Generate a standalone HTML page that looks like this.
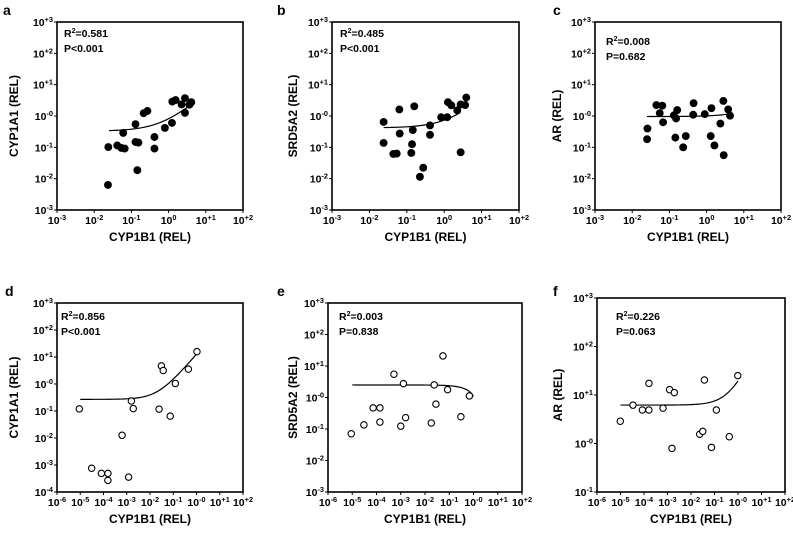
<!DOCTYPE html>
<html><head><meta charset="utf-8"><style>
html,body{margin:0;padding:0;background:#fff;}
svg{display:block;font-family:"Liberation Sans",Arial,sans-serif;font-weight:bold;}
</style></head><body>
<svg id="fig" width="793" height="536" viewBox="0 0 793 536"></svg>
<script>
const aX=[-1.62,-1.63,-1.38,-1.27,-1.18,-1.22,-0.89,-0.89,-0.81,-0.84,-0.67,-0.57,-0.38,-0.38,-0.10,0.09,0.10,0.19,0.35,0.44,0.44,0.56,0.61];
const aY=[-0.99,-2.20,-0.94,-1.02,-1.04,-0.54,-0.26,-0.83,-0.85,-1.73,0.09,0.16,-0.67,-1.04,-0.38,-0.22,0.46,0.51,0.37,0.57,0.10,0.36,0.44];
const bX=[-1.62,-1.62,-1.36,-1.27,-1.20,-1.19,-0.88,-0.86,-0.84,-0.80,-0.56,-0.65,-0.38,-0.38,-0.08,0.08,0.10,0.19,0.35,0.44,0.44,0.56,0.59];
const bY=[-0.19,-0.86,-1.21,-1.20,0.21,-0.56,-1.18,-0.90,-0.45,0.31,-1.65,-1.94,-0.30,-0.60,-0.04,-0.04,0.44,0.34,0.18,0.37,-1.16,0.35,0.59];
const cX=[-1.59,-1.60,-1.35,-1.26,-1.19,-1.17,-0.88,-0.82,-0.79,-0.84,-0.56,-0.63,-0.35,-0.36,-0.05,0.13,0.11,0.21,0.37,0.45,0.46,0.58,0.63];
const cY=[-0.40,-0.74,0.35,0.09,0.33,-0.20,0.02,-0.08,0.19,-0.69,-0.64,-1.00,0.41,0.04,0.06,0.25,-0.64,-0.94,-0.24,0.48,-1.25,0.21,0.01];
const dX=[-5.04,-4.51,-4.09,-3.81,-3.81,-3.20,-2.92,-2.80,-2.72,-1.61,-1.51,-1.43,-1.13,-0.91,-0.35,0.02];
const dY=[-0.92,-3.12,-3.31,-3.31,-3.57,-1.90,-3.45,-0.63,-0.91,-0.93,0.67,0.50,-1.19,0.02,0.55,1.20];
const eX=[-5.04,-4.52,-4.14,-3.86,-3.86,-3.28,-3.00,-2.89,-2.80,-1.74,-1.62,-1.55,-1.26,-1.07,-0.52,-0.17];
const eY=[-1.15,-0.87,-0.33,-0.33,-0.78,0.74,-0.91,0.44,-0.64,-0.81,0.40,-0.21,1.32,0.25,-0.61,0.05];
const fX=[-5.01,-4.47,-4.07,-3.79,-3.79,-3.19,-2.91,-2.71,-2.81,-1.63,-1.50,-1.43,-1.13,-0.92,-0.37,-0.01];
const fY=[0.46,0.79,0.69,0.69,1.24,0.73,1.11,1.05,-0.10,0.19,0.25,1.31,-0.08,0.69,0.14,1.40];
const fitA=[0.33,0.42,0.96,0.27,2.5,6.2];
const fitB=[0.49,0.32,0.05,12.5,-1.4,13.3];
const fitLo=[-1.6,-1.62,-1.6,-5.0,-5.0,-5.0];
const fitHi=[0.56,0.43,0.63,0.0,0.0,0.0];
const stat1=["0.581","0.485","0.008","0.856","0.003","0.226"];
const stat2=["P<0.001","P<0.001","P=0.682","P<0.001","P=0.838","P=0.063"];
const xTickExpA=["-3","-2","-1","0","+1","+2"];
const xTickExpB=["-6","-5","-4","-3","-2","-1","-0","+1","+2"];
const yTickExpTop=["+3","+2","+1","-0","-1","-2","-3"];
const yTickExpD=["+3","+2","+1","-0","-1","-2","-3","-4"];
const yTickExpF=["+3","+2","+1","-0","-1"];

const panels=[
 {id:"a",box:[57,22,243,210],xr:[-3,2],yr:[-3,3],xs:aX,ys:aY,fill:true,ytitle:"CYP1A1 (REL)",ytx:14,lx:3,ly:15,sx:64,sy:37,xt:xTickExpA,yt:yTickExpTop},
 {id:"b",box:[332,22,519,210],xr:[-3,2],yr:[-3,3],xs:bX,ys:bY,fill:true,ytitle:"SRD5A2 (REL)",ytx:293,lx:277,ly:15,sx:340,sy:37,xt:xTickExpA,yt:yTickExpTop},
 {id:"c",box:[595,22,781,210],xr:[-3,2],yr:[-3,3],xs:cX,ys:cY,fill:true,ytitle:"AR (REL)",ytx:557,lx:553,ly:15,sx:606,sy:45,xt:xTickExpA,yt:yTickExpTop},
 {id:"d",box:[57,303,243,492],xr:[-6,2],yr:[-4,3],xs:dX,ys:dY,fill:false,ytitle:"CYP1A1 (REL)",ytx:14,lx:5,ly:296,sx:61,sy:320,xt:xTickExpB,yt:yTickExpD},
 {id:"e",box:[328,303,522,492],xr:[-6,2],yr:[-3,3],xs:eX,ys:eY,fill:false,ytitle:"SRD5A2 (REL)",ytx:293,lx:277,ly:296,sx:339,sy:320,xt:xTickExpB,yt:yTickExpTop},
 {id:"f",box:[597,298,785,492],xr:[-6,2],yr:[-1,3],xs:fX,ys:fY,fill:false,ytitle:"AR (REL)",ytx:558,lx:553,ly:296,sx:616,sy:320,xt:xTickExpB,yt:yTickExpF}
];
const NS="http://www.w3.org/2000/svg";
const svg=document.getElementById('fig');
function mk(tag,attrs,parent){const e=document.createElementNS(NS,tag);for(const k in attrs)e.setAttribute(k,attrs[k]);(parent||svg).appendChild(e);return e;}
function pow10(g,x,y,exp,anchor,size){
  const t=mk('text',{x:x,y:y,'font-size':size,'text-anchor':anchor,fill:'#000'},g);
  t.appendChild(document.createTextNode('10'));
  const s=mk('tspan',{dy:-4,'font-size':size*0.7},t);s.textContent=exp;
  return t;
}
panels.forEach((p,i)=>{
  const g=mk('g',{});
  
  
  const [x0,y0,x1,y1]=p.box;
  const X=v=>x0+(v-p.xr[0])/(p.xr[1]-p.xr[0])*(x1-x0);
  const Y=v=>y1-(v-p.yr[0])/(p.yr[1]-p.yr[0])*(y1-y0);
  const r=mk('rect',{x:x0,y:y0,width:x1-x0,height:y1-y0,fill:'none',stroke:'#000','stroke-width':1.6},g);
  
  
  for(let k=0;k<=p.xr[1]-p.xr[0];k++){
    const xv=X(p.xr[0]+k);
    mk('line',{x1:xv,x2:xv,y1:y1,y2:y1+3,stroke:'#000','stroke-width':1},g);
    const t=pow10(g,xv,y1+14,p.xt[k],'middle',10.5);
    
    
  }
  for(let k=0;k<=p.yr[1]-p.yr[0];k++){
    const yv=Y(p.yr[1]-k);
    mk('line',{x1:x0-3,x2:x0,y1:yv,y2:yv,stroke:'#000','stroke-width':1},g);
    const t=pow10(g,x0-4,yv+4,p.yt[k],'end',10.5);
    
    
  }
  const xt=mk('text',{x:(x0+x1)/2,y:y1+31,'font-size':12,'text-anchor':'middle'},g);
  xt.textContent='CYP1B1 (REL)';
  
  
  const yc=(y0+y1)/2;
  const yt=mk('text',{x:p.ytx,y:yc,'font-size':12,'text-anchor':'middle',transform:`rotate(-90 ${p.ytx} ${yc})`,dy:4},g);
  yt.textContent=p.ytitle;
  
  
  const lt=mk('text',{x:p.lx,y:p.ly,'font-size':14},g);
  lt.textContent=p.id;
  
  
  const s1=mk('text',{x:p.sx,y:p.sy,'font-size':10.5},g);
  s1.appendChild(document.createTextNode('R'));
  const sup=mk('tspan',{dy:-4,'font-size':7},s1);sup.textContent='2';
  const rest=mk('tspan',{dy:4},s1);rest.textContent='='+stat1[i];
  
  
  const s2=mk('text',{x:p.sx,y:p.sy+15,'font-size':10.5},g);
  s2.textContent=stat2[i];
  
  
  let d='';
  for(let k=0;k<=60;k++){
    const lx=fitLo[i]+(fitHi[i]-fitLo[i])*k/60;
    const yl=fitA[i]+fitB[i]*Math.pow(10,lx);
    d+=(k?'L':'M')+X(lx).toFixed(2)+','+Y(Math.log10(yl)).toFixed(2);
  }
  const fl=mk('path',{d:d,fill:'none',stroke:'#000','stroke-width':1.2},g);
  
  
  p.xs.forEach((xv,j)=>{
    const c=mk('circle',{cx:X(xv),cy:Y(p.ys[j]),r:p.fill?3.4:3.2,fill:p.fill?'#000':'#fff',stroke:'#000','stroke-width':1.1},g);
    
    
  });
});
</script>
</body></html>
